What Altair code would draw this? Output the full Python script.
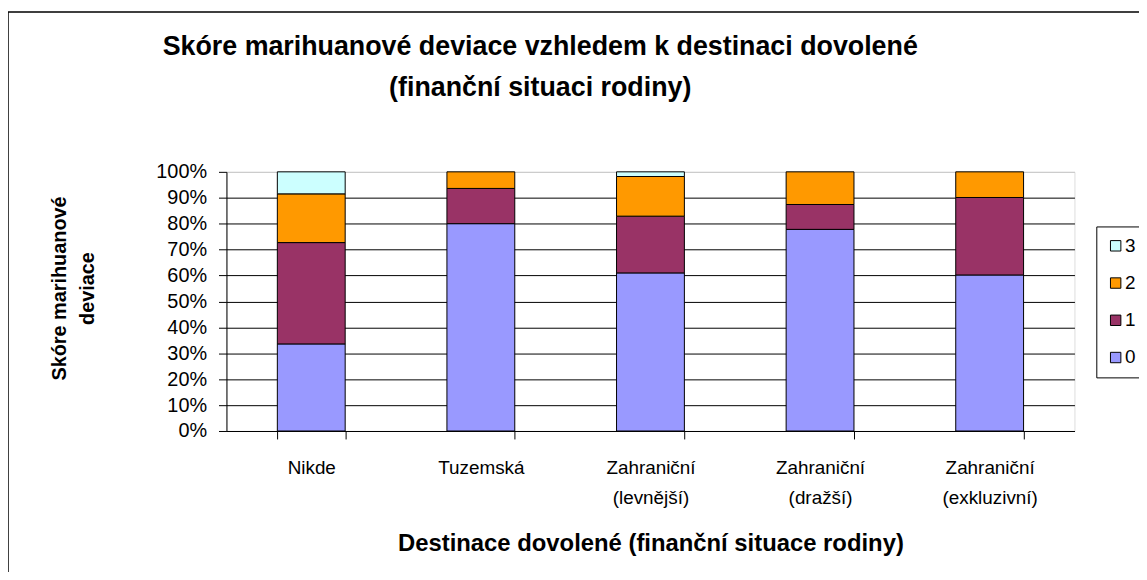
import altair as alt
import pandas as pd

categories = ["Nikde", "Tuzemská", "Zahraniční (levnější)", "Zahraniční (dražší)", "Zahraniční (exkluzivní)"]
scores = ["0", "1", "2", "3"]
score0 = [33.6, 80.0, 61.0, 77.8, 60.2]
score1 = [39.1, 13.6, 21.9, 9.6, 29.9]
score2 = [18.8, 6.4, 15.3, 12.6, 9.9]
score3 = [8.5, 0.0, 1.8, 0.0, 0.0]
colors = {"0": "#9999FF", "1": "#993366", "2": "#FF9900", "3": "#CCFFFF"}
y_ticks = [0, 0.1, 0.2, 0.3, 0.4, 0.5, 0.6, 0.7, 0.8, 0.9, 1.0]

rows = []
for s, vals in zip(scores, [score0, score1, score2, score3]):
    for c, v in zip(categories, vals):
        if v > 0:
            rows.append({"destinace": c, "skore": s, "rank": int(s), "podil": v})
df = pd.DataFrame(rows)

FONT = "Liberation Sans"

bars = alt.Chart(df).mark_bar(stroke="black", strokeWidth=1).encode(
    x=alt.X(
        "destinace:N",
        sort=categories,
        scale=alt.Scale(paddingInner=0.6, paddingOuter=0.3),
        axis=alt.Axis(
            title="Destinace dovolené (finanční situace rodiny)",
            labelAngle=0,
            labelExpr="split(datum.label, ' ')",
            labelFont=FONT, labelFontSize=19, labelColor="black",
            labelLineHeight=30, labelPadding=20,
            tickBand="extent", tickSize=8, tickColor="black",
            domainColor="black",
            titleFont=FONT, titleFontSize=24, titleFontWeight="bold", titleColor="black",
            titlePadding=24,
        ),
    ),
    y=alt.Y(
        "podil:Q",
        stack="normalize",
        scale=alt.Scale(domain=[0, 1], nice=False),
        axis=alt.Axis(
            title=["Skóre marihuanové", "deviace"],
            format=".0%",
            values=y_ticks,
            labelFont=FONT, labelFontSize=20, labelColor="black",
            labelPadding=12, tickSize=8, tickColor="black",
            domainColor="black",
            grid=True,
            gridColor={"condition": {"test": "datum.value >= 1", "value": "#c8c8c8"}, "value": "black"},
            gridWidth=1,
            titleFont=FONT, titleFontSize=20, titleFontWeight="bold", titleColor="black",
            titleAngle=-90, titleAlign="center", titleBaseline="middle",
            titleLineHeight=28, titleX=-168, titleY=117,
        ),
    ),
    color=alt.Color(
        "skore:N",
        scale=alt.Scale(domain=scores[::-1], range=[colors[s] for s in scores[::-1]]),
        legend=alt.Legend(
            title=None, orient="none", legendX=876, legendY=55,
            symbolType="square", symbolSize=110, symbolStrokeColor="black",
            symbolStrokeWidth=1, symbolOpacity=1,
            labelFont=FONT, labelFontSize=19, labelColor="black", labelOffset=0,
            rowPadding=17.5, padding=10, strokeColor="black", fillColor="white",
        ),
    ),
    order=alt.Order("rank:Q", sort="ascending"),
)

border = alt.Chart(pd.DataFrame({"a": [0]})).mark_rect(
    fill="transparent", stroke="black", strokeWidth=1.5
).encode(
    x=alt.value(-220), x2=alt.value(1000),
    y=alt.value(-161), y2=alt.value(520),
)

chart = alt.layer(border, bars).properties(
    width=854,
    height=261,
    padding={"left": 220, "top": 163, "right": 65, "bottom": 140},
    autosize=alt.AutoSizeParams(type="none"),
    title=alt.TitleParams(
        text=["Skóre marihuanové deviace vzhledem k destinaci dovolené", "(finanční situaci rodiny)"],
        font=FONT, fontSize=27, fontWeight="bold", color="black",
        anchor="middle", dx=-111, offset=0, dy=91, lineHeight=41,
    ),
).configure_view(stroke=None).configure(background="white")

chart.save("out.html", embed_options={"renderer": "svg", "actions": False})
